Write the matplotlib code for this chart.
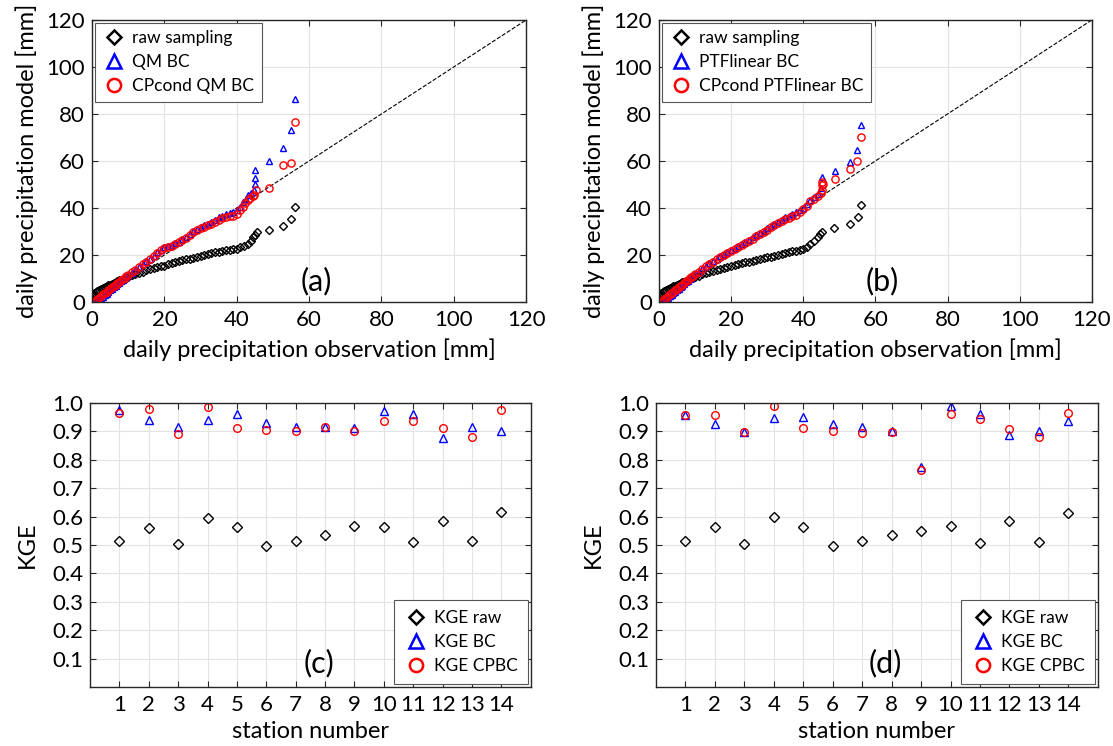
import numpy as np
import matplotlib
matplotlib.use('Agg')
import matplotlib.pyplot as plt
from matplotlib.lines import Line2D

plt.rcParams['font.family'] = ['Lato', 'DejaVu Sans']

# ---- QQ data (obs, model) (a) and (b) ----
raw_a = [(0, 0.8), (0, 1.8), (0, 2.8), (0.3, 3.4), (0.6, 3.8), (1, 4.3), (1.5, 4.8), (2, 5.2), (2.5, 5.6),
         (3, 6.0), (3.5, 6.4), (4, 6.7), (4.5, 7.1), (5, 7.4), (5.5, 7.8), (6, 8.1), (6.5, 8.5), (7, 8.8),
         (7.5, 9.2), (8, 9.5), (8.5, 9.8), (9, 10.1), (9.5, 10.4), (10, 10.7), (11, 11.3), (12, 11.8),
         (13, 12.4), (14, 12.9), (15, 13.4), (16, 13.9), (17, 14.3), (18, 14.7), (19, 15.1), (20, 15.5),
         (21, 16.0), (22, 16.5), (23, 16.9), (24, 17.3), (25, 17.7), (26, 18.1), (27, 18.5), (28, 18.9),
         (29, 19.2), (30, 19.6), (31, 20.0), (32, 20.4), (33, 20.8), (34, 21.1), (35, 21.4), (36, 21.7),
         (37, 22.0), (38, 22.2), (39, 22.4), (40, 22.7), (41, 23.2), (42, 23.8), (43, 24.8), (44, 26.0),
         (44.6, 27.5), (45.1, 28.6), (45.5, 29.6), (48.8, 30.8), (52.8, 32.5), (54.9, 35.3), (56.2, 40.4)]
qm_a = [(1, 0.0), (1.5, 0.5), (2, 1.0), (2.5, 1.7), (3, 2.3), (3.5, 3.0), (4, 3.6), (4.5, 4.3), (5, 4.9),
        (5.5, 5.6), (6, 6.2), (6.5, 6.9), (7, 7.5), (7.5, 8.2), (8, 8.8), (8.5, 9.5), (9, 10.1), (9.5, 10.7),
        (10, 11.3), (11, 12.5), (12, 13.7), (13, 14.9), (14, 16.1), (15, 17.3), (16, 18.5), (17, 19.7),
        (18, 21.1), (19, 22.3), (20, 23.2), (21, 23.8), (22, 24.3), (23, 24.9), (24, 25.7), (25, 26.6),
        (26, 27.6), (27, 29.0), (28, 30.2), (29, 31.0), (30, 31.8), (31, 32.6), (32, 33.2), (33, 34.0),
        (34, 35.0), (35, 36.0), (36, 36.8), (37, 37.4), (38, 37.8), (39, 38.2), (40, 39.0), (41, 40.6),
        (41.8, 42.4), (42.5, 44.0), (43.2, 45.4), (44, 46.4), (44.8, 47.5), (45.1, 50.1), (45.1, 52.9),
        (45.1, 56.2), (48.8, 60.1), (52.8, 65.4), (54.9, 73.2), (56.0, 86.5)]
cp_a = [(0.5, 0.0), (1, 0.5), (1.5, 1.2), (2, 1.8), (2.5, 2.5), (3, 3.2), (3.5, 3.8), (4, 4.4), (4.5, 5.0),
        (5, 5.6), (5.5, 6.2), (6, 6.8), (6.5, 7.4), (7, 8.0), (7.5, 8.7), (8, 9.3), (8.5, 9.9), (9, 10.4),
        (9.5, 10.9), (10, 11.4), (11, 12.6), (12, 13.8), (13, 14.9), (14, 16.0), (15, 17.2), (16, 18.4),
        (17, 19.6), (18, 21.0), (19, 22.2), (20, 23.0), (21, 23.6), (22, 24.0), (23, 24.6), (24, 25.4),
        (25, 26.2), (26, 27.2), (27, 28.6), (28, 29.8), (29, 30.6), (30, 31.4), (31, 32.1), (32, 32.7),
        (33, 33.3), (34, 34.2), (35, 35.0), (36, 35.8), (37, 36.2), (38, 36.4), (39, 36.8), (40, 37.6),
        (41, 39.0), (41.8, 40.5), (42.3, 42.0), (43, 43.5), (43.7, 44.1), (44.4, 45.0), (44.8, 45.5),
        (45.3, 47.7), (48.8, 48.6), (52.8, 58.2), (54.9, 59.1), (56.0, 76.6)]

raw_b = [(0, 0.8), (0, 1.8), (0, 2.8), (0.3, 3.4), (0.6, 3.8), (1, 4.2), (1.5, 4.7), (2, 5.1), (2.5, 5.5),
         (3, 5.9), (3.5, 6.3), (4, 6.6), (4.5, 7.0), (5, 7.3), (5.5, 7.7), (6, 8.0), (6.5, 8.4), (7, 8.7),
         (7.5, 9.1), (8, 9.4), (8.5, 9.7), (9, 10.0), (9.5, 10.3), (10, 10.6), (11, 11.2), (12, 11.7),
         (13, 12.3), (14, 12.8), (15, 13.3), (16, 13.7), (17, 14.1), (18, 14.5), (19, 14.9), (20, 15.3),
         (21, 15.7), (22, 16.1), (23, 16.5), (24, 16.9), (25, 17.2), (26, 17.6), (27, 17.9), (28, 18.3),
         (29, 18.7), (30, 19.0), (31, 19.3), (32, 19.6), (33, 20.0), (34, 20.3), (35, 20.7), (36, 21.1),
         (37, 21.5), (38, 21.9), (39, 22.3), (40, 22.6), (41, 23.3), (42, 24.6), (43, 26.0), (44, 27.5),
         (44.7, 28.8), (45.3, 29.9), (48.6, 31.3), (52.9, 33.3), (55.2, 36.0), (56.1, 41.2)]
ptf_b = [(1, 0.0), (1.5, 0.5), (2, 1.1), (2.5, 1.8), (3, 2.4), (3.5, 3.1), (4, 3.7), (4.5, 4.4), (5, 5.0),
         (5.5, 5.7), (6, 6.3), (6.5, 7.0), (7, 7.6), (7.5, 8.4), (8, 9.1), (8.5, 9.8), (9, 10.4), (9.5, 11.1),
         (10, 11.7), (11, 12.9), (12, 14.1), (13, 15.3), (14, 16.4), (15, 17.4), (16, 18.4), (17, 19.4),
         (18, 20.4), (19, 21.4), (20, 22.2), (21, 23.0), (22, 24.0), (23, 24.8), (24, 25.6), (25, 26.5),
         (26, 27.5), (27, 28.5), (28, 29.5), (29, 30.3), (30, 31.3), (31, 32.3), (32, 33.3), (33, 34.0),
         (34, 35.0), (35, 36.0), (36, 36.8), (37, 37.5), (38, 38.2), (39, 39.0), (40, 40.0), (41, 41.6),
         (42, 43.6), (43, 44.8), (44, 46.0), (44.8, 48.5), (45.3, 53.3), (48.8, 55.9), (52.9, 59.4),
         (55.0, 64.6), (56.1, 75.3)]
cp_b = [(0.5, 0.0), (1, 0.6), (1.5, 1.3), (2, 1.9), (2.5, 2.6), (3, 3.2), (3.5, 3.8), (4, 4.4), (4.5, 5.0),
        (5, 5.6), (5.5, 6.2), (6, 6.8), (6.5, 7.4), (7, 8.0), (7.5, 8.8), (8, 9.5), (8.5, 10.1), (9, 10.6),
        (9.5, 11.2), (10, 11.8), (11, 12.9), (12, 14.0), (13, 15.1), (14, 16.2), (15, 17.2), (16, 18.2),
        (17, 19.1), (18, 20.1), (19, 21.0), (20, 21.8), (21, 22.6), (22, 23.6), (23, 24.4), (24, 25.2),
        (25, 26.0), (26, 27.0), (27, 28.0), (28, 29.0), (29, 29.8), (30, 30.8), (31, 31.8), (32, 32.8),
        (33, 33.4), (34, 34.3), (35, 35.2), (36, 35.8), (37, 36.4), (38, 37.2), (39, 38.2), (40, 39.4),
        (41, 41.0), (42, 43.0), (43, 44.0), (44, 45.0), (44.9, 46.2), (45.1, 47.7), (45.2, 49.8),
        (45.5, 50.3), (45.1, 51.2), (48.8, 52.4), (52.9, 56.6), (55.0, 59.8), (56.1, 70.2)]

# ---- KGE per station, panels (c) and (d) ----
stations = np.arange(1, 15)
kge_raw_c = [0.515, 0.560, 0.505, 0.594, 0.564, 0.497, 0.513, 0.535, 0.567, 0.564, 0.511, 0.586, 0.515, 0.615]
kge_bc_c = [0.977, 0.940, 0.914, 0.940, 0.962, 0.928, 0.914, 0.915, 0.912, 0.972, 0.960, 0.877, 0.916, 0.900]
kge_cp_c = [0.964, 0.980, 0.890, 0.987, 0.912, 0.904, 0.901, 0.915, 0.901, 0.937, 0.937, 0.911, 0.882, 0.975]
kge_raw_d = [0.515, 0.563, 0.502, 0.598, 0.563, 0.498, 0.515, 0.536, 0.548, 0.567, 0.506, 0.585, 0.510, 0.612]
kge_bc_d = [0.957, 0.925, 0.899, 0.948, 0.952, 0.927, 0.914, 0.902, 0.774, 0.988, 0.962, 0.887, 0.901, 0.937]
kge_cp_d = [0.956, 0.956, 0.899, 0.990, 0.912, 0.902, 0.896, 0.898, 0.764, 0.962, 0.945, 0.907, 0.879, 0.963]

BLUE = '#0000ff'
RED = '#ff0000'
GRID = '#e3e3e3'
SPINE = '#262626'


def style_axes(ax):
    ax.grid(True, color=GRID, lw=0.8)
    ax.set_axisbelow(True)
    for s in ax.spines.values():
        s.set_color(SPINE)
        s.set_linewidth(1.0)
    ax.tick_params(direction='in', length=4, width=0.8, color=SPINE, labelsize=16,
                   top=True, right=True)
    ax.tick_params(axis='x', pad=6)
    ax.tick_params(axis='y', pad=5)


def legend_handles(labels):
    specs = [('D', 'k', 7.5), ('^', BLUE, 9.5), ('o', RED, 9.5)]
    return [Line2D([], [], ls='none', marker=m, mfc='none', mec=c, ms=s, mew=1.8, label=l)
            for (m, c, s), l in zip(specs, labels)]


def qq_panel(ax, raw, bc, cp, labels, tag):
    ax.plot([0, 120], [0, 120], 'k--', lw=0.8, zorder=1)
    for data, m, c, s in [(raw, 'D', 'k', 4.2), (bc, '^', BLUE, 4.8), (cp, 'o', RED, 5.2)]:
        x, y = np.array(data).T
        ax.plot(x, y, ls='none', marker=m, mfc='none', mec=c, ms=s, mew=1.0, zorder=2)
    ax.set_xlim(0, 120)
    ax.set_ylim(0, 120)
    ax.set_xticks(range(0, 121, 20))
    ax.set_yticks(range(0, 121, 20))
    style_axes(ax)
    ax.set_xlabel('daily precipitation observation [mm]', fontsize=17, labelpad=6)
    ax.set_ylabel('daily precipitation model [mm]', fontsize=17, labelpad=6)
    ax.text(62, 9, tag, fontsize=22, ha='center', va='center')
    leg = ax.legend(handles=legend_handles(labels), loc='upper left', fontsize=12.5,
                    fancybox=False, edgecolor='#555555', framealpha=1, borderaxespad=0.15,
                    handletextpad=0.4, handlelength=1.3, borderpad=0.45, labelspacing=0.45)
    leg.get_frame().set_linewidth(0.8)


def kge_panel(ax, raw, bc, cp, tag):
    ax.plot(stations, raw, ls='none', marker='D', mfc='none', mec='k', ms=5, mew=1.0)
    ax.plot(stations, bc, ls='none', marker='^', mfc='none', mec=BLUE, ms=5.5, mew=1.0)
    ax.plot(stations, cp, ls='none', marker='o', mfc='none', mec=RED, ms=5.5, mew=1.0)
    ax.set_xlim(0, 15)
    ax.set_ylim(0, 1)
    ax.set_xticks(stations)
    ax.set_yticks(np.arange(1, 11) / 10)
    ax.set_yticklabels(['%.1f' % (v / 10) for v in range(1, 11)])
    style_axes(ax)
    ax.set_xlabel('station number', fontsize=17, labelpad=4)
    ax.set_ylabel('KGE', fontsize=17, labelpad=10)
    ax.text(7.8, 0.085, tag, fontsize=22, ha='center', va='center')
    leg = ax.legend(handles=legend_handles(['KGE raw', 'KGE BC', 'KGE CPBC']), loc='lower right',
                    fontsize=12.5, fancybox=False, edgecolor='#555555', framealpha=1,
                    borderaxespad=0.15, handletextpad=0.4, handlelength=1.3, borderpad=0.6,
                    labelspacing=0.45)
    leg.get_frame().set_linewidth(0.8)


fig = plt.figure(figsize=(11.13, 7.46), dpi=100)
ax_a = fig.add_axes([0.0827, 0.5952, 0.390, 0.378])
ax_b = fig.add_axes([0.5920, 0.5952, 0.389, 0.378])
ax_c = fig.add_axes([0.0809, 0.0791, 0.396, 0.3807])
ax_d = fig.add_axes([0.5894, 0.0791, 0.397, 0.3807])

qq_panel(ax_a, raw_a, qm_a, cp_a, ['raw sampling', 'QM BC', 'CPcond QM BC'], '(a)')
qq_panel(ax_b, raw_b, ptf_b, cp_b, ['raw sampling', 'PTFlinear BC', 'CPcond PTFlinear BC'], '(b)')
kge_panel(ax_c, kge_raw_c, kge_bc_c, kge_cp_c, '(c)')
kge_panel(ax_d, kge_raw_d, kge_bc_d, kge_cp_d, '(d)')

fig.savefig('out.png', dpi=100)
